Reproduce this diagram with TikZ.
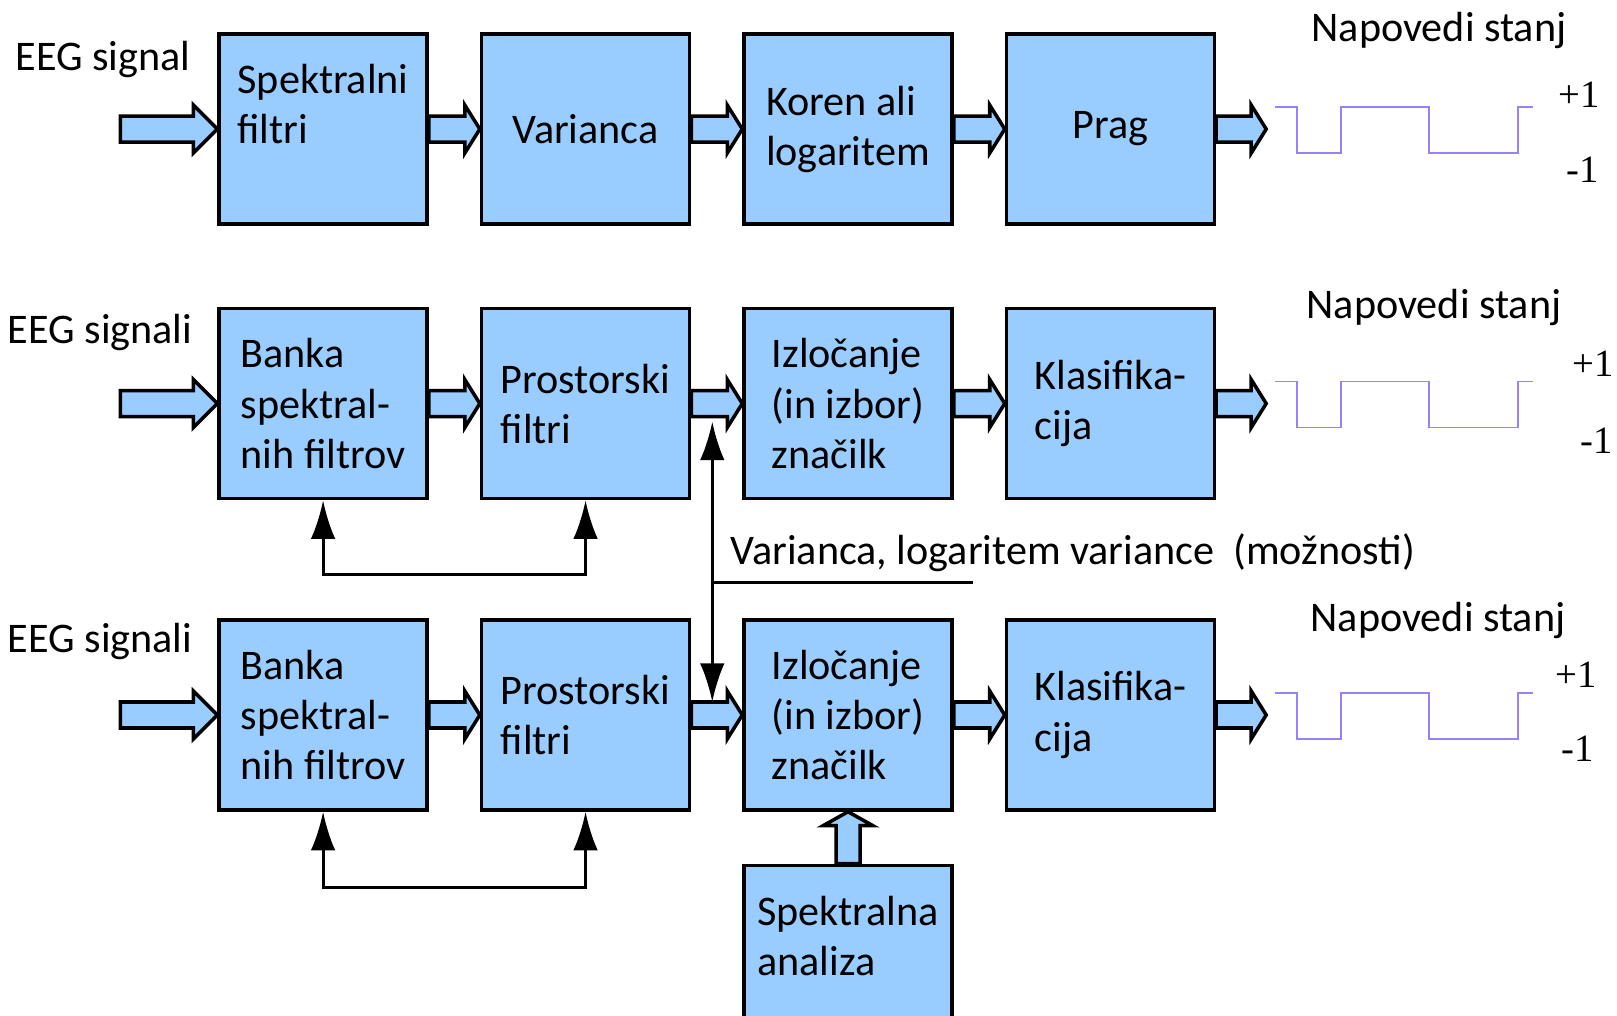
\documentclass[tikz,border=0pt]{standalone}
\usepackage{fontspec}
\setmainfont{Carlito}
\newfontfamily\numfont{Liberation Serif}
\usetikzlibrary{arrows.meta,calc}

\definecolor{boxblue}{RGB}{153,204,255}
\definecolor{wavepurple}{RGB}{150,130,255}

% block arrow from #2 to #3, head length #1
\newcommand{\fatarrow}[3][15]{%
  \draw[fat] ($(#2 |- #3)+(0,-13)$) -- ($(#3)+(-#1,-13)$) -- ($(#3)+(-#1,-24)$) -- (#3)
    -- ($(#3)+(-#1,24)$) -- ($(#3)+(-#1,13)$) -- ($(#2 |- #3)+(0,13)$) -- cycle;}

% predicted state, square wave after the output arrow
\newcommand{\stanje}[1]{%
  \draw[wave] ($(#1)+(9,-22)$) -- ++(22,0) -- ++(0,46) -- ++(44,0) -- ++(0,-46)
    -- ++(88,0) -- ++(0,46) -- ++(89,0) -- ++(0,-46) -- ++(15,0);}

\begin{document}
\begin{tikzpicture}[
  x=0.02cm, y=-0.02cm,
  font=\fontsize{24}{28.5}\selectfont,
  every matrix/.style={ampersand replacement=\&,column sep=1.02cm,row sep=1.04cm},
  box/.style={draw,line width=2pt,fill=boxblue,minimum width=4.16cm,minimum height=3.8cm,
    inner sep=0pt,align=left},
  fat/.style={draw,line width=2pt,fill=boxblue,line join=miter},
  fb/.style={line width=1.7pt,{Latex[length=22pt,width=14pt]}-{Latex[length=22pt,width=14pt]}},
  wave/.style={draw=wavepurple,line width=0.9pt},
  lbl/.style={inner sep=0pt},
  num/.style={inner sep=0pt,font=\numfont\fontsize{22}{24}\selectfont}]

  \useasboundingbox (0,0) rectangle (1617,1016);

  % The three processing chains
  \matrix (m) [anchor=north west,inner sep=0pt] at (217,32) {
    \node[box] (sf) {Spektralni\\filtri\\\mbox{}}; \&
    \node[box] (var) {Varianca}; \&
    \node[box] (kor) {Koren ali\\logaritem}; \&
    \node[box,align=center] (prag) {Prag}; \\[0.58cm]
    \node[box] (bk2) {Banka\\spektral-\\nih filtrov}; \&
    \node[box] (pf2) {Prostorski\\filtri}; \&
    \node[box] (iz2) {Izločanje\\(in izbor)\\značilk}; \&
    \node[box] (kl2) {Klasifika-\\cija}; \\[1.32cm]
    \node[box] (bk3) {Banka\\spektral-\\nih filtrov}; \&
    \node[box] (pf3) {Prostorski\\filtri}; \&
    \node[box] (iz3) {Izločanje\\(in izbor)\\značilk}; \&
    \node[box] (kl3) {Klasifika-\\cija}; \\
    \& \& \node[box] (sa) {Spektralna\\analiza\\\mbox{}}; \& \\
  };

  % Inputs and outputs
  \node[lbl] (eeg1) at (103,59) {EEG signal};
  \node[lbl] (eeg2) at (100,332) {EEG signali};
  \node[lbl] (eeg3) at (100,641) {EEG signali};
  \coordinate (in1) at ($(sf.west)+(-97,0)$);
  \coordinate (in2) at ($(bk2.west)+(-97,0)$);
  \coordinate (in3) at ($(bk3.west)+(-97,0)$);
  \coordinate (out1) at ($(prag.east)+(50,0)$);
  \coordinate (out2) at ($(kl2.east)+(50,0)$);
  \coordinate (out3) at ($(kl3.east)+(50,0)$);

  % Block arrows along each chain
  \fatarrow[24]{in1}{sf.west}
  \fatarrow{sf.east}{var.west}
  \fatarrow{var.east}{kor.west}
  \fatarrow{kor.east}{prag.west}
  \fatarrow{prag.east}{out1}
  \fatarrow[24]{in2}{bk2.west}
  \fatarrow{bk2.east}{pf2.west}
  \fatarrow{pf2.east}{iz2.west}
  \fatarrow{iz2.east}{kl2.west}
  \fatarrow{kl2.east}{out2}
  \fatarrow[24]{in3}{bk3.west}
  \fatarrow{bk3.east}{pf3.west}
  \fatarrow{pf3.east}{iz3.west}
  \fatarrow{iz3.east}{kl3.west}
  \fatarrow{kl3.east}{out3}
  \draw[fat] ($(sa.north)+(-12,0)$) -- ($(iz3.south)+(-12,14)$) -- ($(iz3.south)+(-25,14)$)
    -- (iz3.south) -- ($(iz3.south)+(25,14)$) -- ($(iz3.south)+(12,14)$)
    -- ($(sa.north)+(12,0)$) -- cycle;

  % Feedback between filter banks and spatial filters
  \draw[fb] (bk2.south) -- ++(0,74) -| (pf2.south);
  \draw[fb] (bk3.south) -- ++(0,76) -| (pf3.south);

  % Feature options
  \coordinate (vt) at ($(pf2.east)+(21,18)$);
  \coordinate (vb) at ($(pf3.east)+(21,-13)$);
  \draw[fb] (vt) -- (vb);
  \coordinate (vl) at ($(vt)+(0,161)$);
  \coordinate (vr) at ($(vl)+(261,0)$);
  \draw[line width=1.7pt] (vl) -- (vr);
  \node[lbl,anchor=west] (opt) at ($(vl)+(18,-30)$) {Varianca, logaritem variance\ \ (možnosti)};

  % Predicted states
  \node[lbl] (nap1) at (1439,30) {Napovedi stanj};
  \node[lbl] (nap2) at (1434,307) {Napovedi stanj};
  \node[lbl] (nap3) at (1438,620) {Napovedi stanj};
  \stanje{out1}
  \stanje{out2}
  \stanje{out3}
  \node[num] (p1) at (1579,95) {+1};
  \node[num] (m1) at (1583,170) {-1};
  \node[num] (p2) at (1593,364) {+1};
  \node[num] (m2) at (1597,441) {-1};
  \node[num] (p3) at (1576,675) {+1};
  \node[num] (m3) at (1578,749) {-1};

\end{tikzpicture}
\end{document}
